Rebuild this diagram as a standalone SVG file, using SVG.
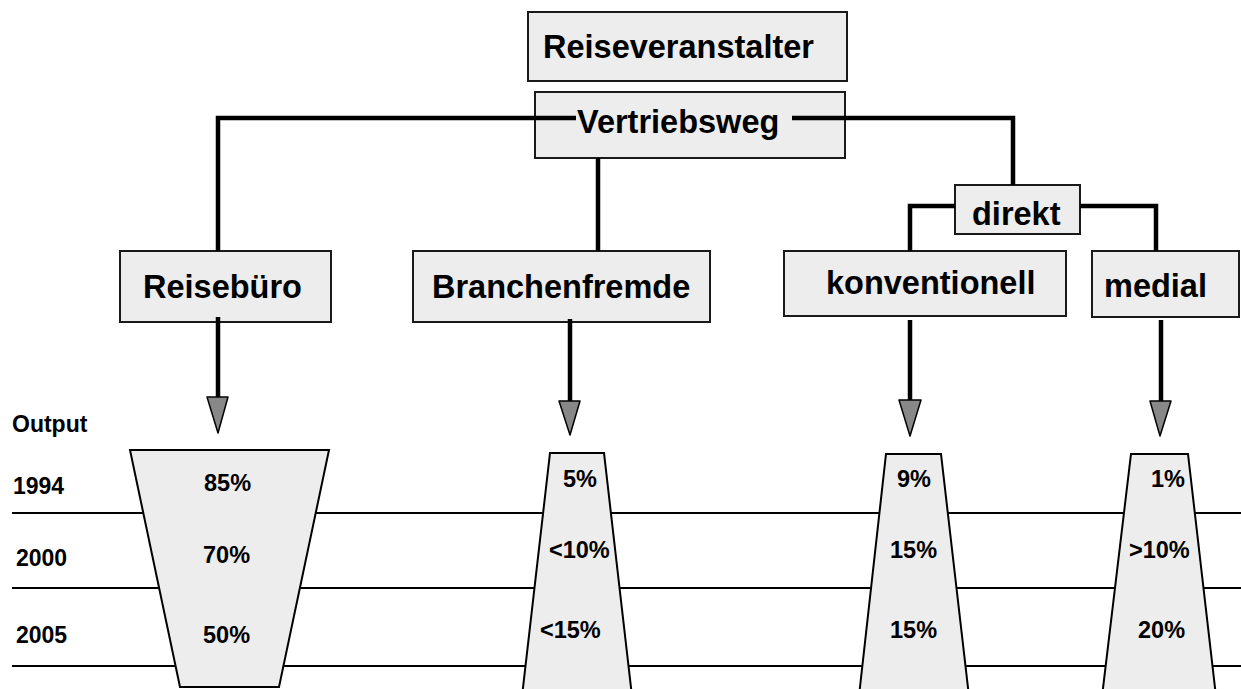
<svg xmlns="http://www.w3.org/2000/svg" width="1241" height="689" viewBox="0 0 1241 689">
<defs>
<style>
.box{fill:#ededed;stroke:#1a1a1a;stroke-width:2}
.t{font-family:"Liberation Sans",Arial,sans-serif;font-weight:bold;fill:#000}
.big{font-size:32.5px}
.sm{font-size:23px}
.pc{font-size:23.5px}
.con{stroke:#000;stroke-width:4.5;fill:none}
.hl{stroke:#000;stroke-width:2;fill:none}
.tri{fill:#888;stroke:#000;stroke-width:1.5;stroke-linejoin:round}
.trap{fill:#ededed;stroke:#000;stroke-width:2;stroke-linejoin:miter}
</style>
</defs>
<rect width="1241" height="689" fill="#fff"/>
<g id="rows">
<line class="hl" x1="12" y1="513" x2="1241" y2="513"/>
<line class="hl" x1="12" y1="588" x2="1241" y2="588"/>
<line class="hl" x1="12" y1="666" x2="1241" y2="666"/>
<text class="t sm" x="12" y="432">Output</text>
<text class="t sm" x="13" y="494">1994</text>
<text class="t sm" x="16" y="566">2000</text>
<text class="t sm" x="16" y="643">2005</text>
</g>
<g id="funnel-reisebuero">
<polygon class="trap" points="130,450 329,450 279,687 180,687"/>
<text class="t pc" x="204" y="491">85%</text>
<text class="t pc" x="203" y="563">70%</text>
<text class="t pc" x="203" y="643">50%</text>
</g>
<g id="funnel-branchenfremde">
<polygon class="trap" points="550,453 604,453 633,705 521,705"/>
<text class="t pc" x="563" y="487">5%</text>
<text class="t pc" x="549" y="558">&lt;10%</text>
<text class="t pc" x="540" y="638">&lt;15%</text>
</g>
<g id="funnel-konventionell">
<polygon class="trap" points="886,454 941,454 970,705 858,705"/>
<text class="t pc" x="897" y="487">9%</text>
<text class="t pc" x="890" y="558">15%</text>
<text class="t pc" x="890" y="638">15%</text>
</g>
<g id="funnel-medial">
<polygon class="trap" points="1131,454 1188,454 1217,705 1101,705"/>
<text class="t pc" x="1151" y="487">1%</text>
<text class="t pc" x="1129" y="558">&gt;10%</text>
<text class="t pc" x="1138" y="638">20%</text>
</g>
<g id="reiseveranstalter">
<rect class="box" x="528" y="12" width="319" height="69"/>
<text class="t big" x="543" y="58">Reiseveranstalter</text>
</g>
<g id="vertriebsweg">
<rect class="box" x="535" y="92" width="310" height="66"/>
<text class="t big" x="577" y="133">Vertriebsweg</text>
</g>
<g id="direkt">
<rect class="box" x="955" y="185" width="125" height="49"/>
<text class="t big" x="972" y="225">direkt</text>
</g>
<g id="reisebuero">
<rect class="box" x="120" y="251" width="211" height="71"/>
<text class="t big" x="143" y="298">Reisebüro</text>
</g>
<g id="branchenfremde">
<rect class="box" x="413" y="251" width="297" height="71"/>
<text class="t big" x="432" y="298">Branchenfremde</text>
</g>
<g id="konventionell">
<rect class="box" x="784" y="251" width="282" height="65"/>
<text class="t big" x="826" y="294">konventionell</text>
</g>
<g id="medial">
<rect class="box" x="1092" y="251" width="147" height="66"/>
<text class="t big" x="1104" y="297">medial</text>
</g>
<g id="connectors">
<polyline class="con" points="218,251 218,118 576,118"/>
<polyline class="con" points="792,118 1013,118 1013,185"/>
<line class="con" x1="598" y1="158" x2="598" y2="251"/>
<polyline class="con" points="910,251 910,206 955,206"/>
<polyline class="con" points="1080,206 1156,206 1156,251"/>
<line class="con" x1="218" y1="317" x2="218" y2="398"/>
<line class="con" x1="570" y1="319" x2="570" y2="401"/>
<line class="con" x1="910" y1="320" x2="910" y2="401"/>
<line class="con" x1="1161" y1="320" x2="1161" y2="401"/>
<polygon class="tri" points="207,397 228,397 218,433"/>
<polygon class="tri" points="559,401 580,401 570,435"/>
<polygon class="tri" points="899,400 921,400 910,436"/>
<polygon class="tri" points="1150,401 1171,401 1160,436"/>
</g>
</svg>
